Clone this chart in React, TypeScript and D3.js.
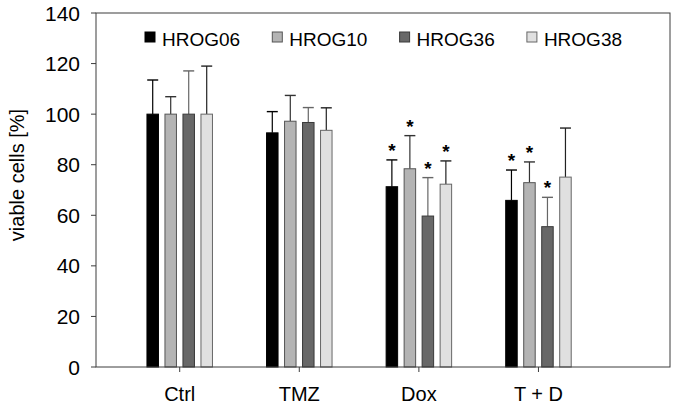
import React from "react";
import * as d3 from "d3";

const categories = ["Ctrl", "TMZ", "Dox", "T + D"];
const seriesNames = ["HROG06", "HROG10", "HROG36", "HROG38"];
const HROG06 = [100, 92.6, 71.3, 65.9];
const HROG10 = [100, 97.2, 78.4, 72.9];
const HROG36 = [100, 96.7, 59.7, 55.5];
const HROG38 = [100, 93.6, 72.3, 75.1];
const err06 = [13.5, 8.4, 10.6, 12.0];
const err10 = [6.9, 10.2, 13.1, 8.2];
const err36 = [17.1, 5.9, 15.2, 11.6];
const err38 = [19.0, 8.9, 9.2, 19.4];
const sig06 = [false, false, true, true];
const sig10 = [false, false, true, true];
const sig36 = [false, false, true, true];
const sig38 = [false, false, true, false];
const yTicks = [0, 20, 40, 60, 80, 100, 120, 140];

const values = [HROG06, HROG10, HROG36, HROG38];
const errors = [err06, err10, err36, err38];
const sigs = [sig06, sig10, sig36, sig38];
const fills = ["#000000", "#b4b4b4", "#686868", "#e0e0e0"];
const strokes = ["#000000", "#555555", "#3a3a3a", "#666666"];
const errColors = ["#000000", "#333333", "#666666", "#222222"];

const W = 673, H = 408;
const L = 96, R = 670, T = 13, B = 367;
const FONT = "Arial, 'Liberation Sans', Helvetica, sans-serif";

export default function App() {
  const y = d3.scaleLinear().domain([0, 140]).range([B, T]);
  const x = d3.scaleLinear().domain([-0.7, 4.1]).range([L, R]);
  const barW = 11.5;
  const stride = 18;
  const capW = 11;

  return (
    <svg width={W} height={H} style={{ position: "absolute", left: 0, top: 0, background: "#fff" }}
      fontFamily={FONT}>
      <rect x={0} y={0} width={W} height={H} fill="#fff" />
      {categories.map((c, i) => (
        <g key={c}>
          {values.map((vals, j) => {
            const cx = x(i) + (j - 1.5) * stride;
            const top = y(vals[i]);
            const et = y(vals[i] + errors[j][i]);
            return (
              <g key={j}>
                <line x1={cx} x2={cx} y1={top} y2={et} stroke={errColors[j]} strokeWidth={1.2} />
                <line x1={cx - capW / 2} x2={cx + capW / 2} y1={et} y2={et} stroke={errColors[j]} strokeWidth={1.4} />
                <rect x={cx - barW / 2} y={top} width={barW} height={B - top}
                  fill={fills[j]} stroke={strokes[j]} strokeWidth={1} />
                {sigs[j][i] && (
                  <text x={cx} y={et + 9} textAnchor="middle" fontSize={19} fontWeight="bold" fill="#000"
                    transform={`translate(0,-12)`}>*</text>
                )}
              </g>
            );
          })}
        </g>
      ))}
      <rect x={L} y={T} width={R - L} height={B - T} fill="none" stroke="#3c3c3c" strokeWidth={1} />
      {yTicks.map((t) => (
        <g key={t}>
          <line x1={L - 5} x2={L} y1={y(t)} y2={y(t)} stroke="#3c3c3c" strokeWidth={1} />
          <text x={80} y={y(t)} dy="0.36em" textAnchor="end" fontSize={21} fill="#000">{t}</text>
        </g>
      ))}
      {categories.map((c, i) => (
        <g key={c}>
          <line x1={x(i)} x2={x(i)} y1={B} y2={B + 5} stroke="#3c3c3c" strokeWidth={1} />
          <text x={x(i)} y={401} textAnchor="middle" fontSize={20} fill="#000">{c}</text>
        </g>
      ))}
      <text transform={`translate(24,175) rotate(-90)`} textAnchor="middle" fontSize={20} fill="#000">viable cells [%]</text>
      {seriesNames.map((s, j) => {
        const lx = 145 + j * 127.3;
        return (
          <g key={s}>
            <rect x={lx} y={32} width={10} height={10} fill={fills[j]} stroke={strokes[j]} strokeWidth={1} />
            <text x={lx + 17} y={46} fontSize={19} fill="#000">{s}</text>
          </g>
        );
      })}
    </svg>
  );
}
